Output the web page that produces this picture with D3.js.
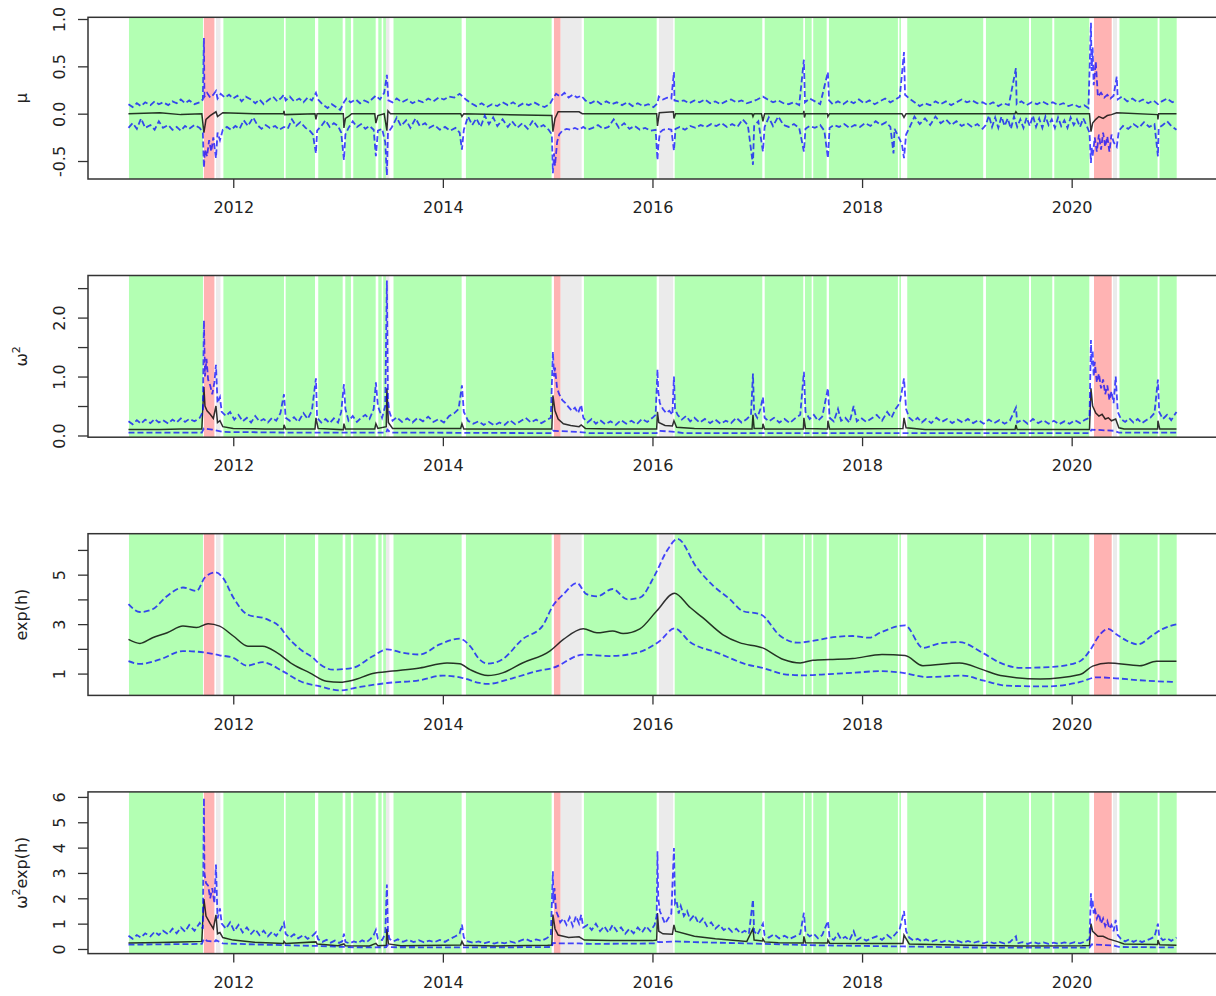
<!DOCTYPE html>
<html>
<head>
<meta charset="utf-8">
<script src="https://cdn.jsdelivr.net/npm/d3@7"></script>
<style>
body { margin: 0; background: #fff; }
text { font-family: "DejaVu Sans", sans-serif; fill: #222; }
</style>
</head>
<body>
<svg id="chart" width="1216" height="996"></svg>
<script>
// x axis labels
var yearTicks = [2012, 2014, 2016, 2018, 2020];

// regime shading [from, to, kind]  g = calm, r = crisis, w = other
var regimes = [
	[2011.005, 2011.711, "g"], [2011.72, 2011.82, "r"], [2011.835, 2011.878, "w"],
	[2011.906, 2012.484, "g"], [2012.50, 2012.78, "g"], [2012.811, 2013.044, "g"],
	[2013.069, 2013.123, "g"], [2013.145, 2013.359, "g"], [2013.384, 2013.416, "g"],
	[2013.431, 2013.457, "g"], [2013.457, 2013.49, "w"], [2013.529, 2014.179, "g"],
	[2014.22, 2015.038, "g"], [2015.06, 2015.124, "r"], [2015.124, 2015.324, "w"],
	[2015.346, 2016.04, "g"], [2016.062, 2016.198, "w"], [2016.212, 2017.048, "g"],
	[2017.071, 2017.439, "g"], [2017.455, 2017.519, "g"], [2017.534, 2017.662, "g"],
	[2017.684, 2018.342, "g"], [2018.356, 2018.371, "g"], [2018.431, 2019.156, "g"],
	[2019.182, 2019.593, "g"], [2019.612, 2019.815, "g"], [2019.834, 2020.168, "g"],
	[2020.213, 2020.382, "r"], [2020.394, 2020.432, "w"], [2020.456, 2020.82, "g"],
	[2020.838, 2021.002, "g"]
];

// ---- mu ----
var muMid = [[2011.00,0.00],[2011.30,0.01],[2011.50,-0.01],[2011.70,0.00],[2011.72,-0.20],[2011.74,-0.06],[2011.78,-0.02],[2011.835,0.02],[2011.85,-0.03],[2011.90,0.01],[2012.20,0.00],[2012.48,0.00],[2012.484,0.03],[2012.49,-0.01],[2012.78,0.00],[2012.789,-0.06],[2012.80,0.00],[2013.05,0.00],[2013.056,-0.15],[2013.07,-0.05],[2013.10,-0.03],[2013.13,0.00],[2013.35,0.00],[2013.361,-0.10],[2013.38,-0.02],[2013.44,0.00],[2013.466,-0.18],[2013.476,0.03],[2013.50,0.00],[2014.17,0.00],[2014.182,-0.03],[2014.20,0.00],[2015.04,-0.02],[2015.05,-0.19],[2015.07,-0.05],[2015.10,0.02],[2015.30,0.02],[2015.33,0.00],[2016.04,0.00],[2016.048,-0.13],[2016.065,0.01],[2016.20,0.02],[2016.205,-0.05],[2016.22,0.00],[2016.95,0.00],[2016.959,-0.03],[2016.97,0.00],[2017.04,0.00],[2017.054,-0.08],[2017.07,0.00],[2017.44,0.00],[2017.445,0.03],[2017.45,-0.04],[2017.46,0.00],[2017.67,0.00],[2017.674,-0.03],[2017.69,0.00],[2018.38,0.00],[2018.40,-0.04],[2018.42,0.00],[2019.46,0.00],[2019.468,0.02],[2019.48,0.00],[2020.17,0.00],[2020.184,-0.19],[2020.20,-0.10],[2020.23,-0.06],[2020.26,-0.03],[2020.30,-0.05],[2020.34,-0.02],[2020.38,-0.01],[2020.43,0.01],[2020.82,-0.01],[2020.823,-0.06],[2020.83,0.00],[2021.00,0.00]];
var muUp = [[2011.00,0.10],[2011.04,0.07],[2011.08,0.11],[2011.12,0.08],[2011.16,0.12],[2011.21,0.09],[2011.25,0.13],[2011.29,0.10],[2011.33,0.12],[2011.38,0.09],[2011.42,0.13],[2011.46,0.11],[2011.50,0.15],[2011.54,0.11],[2011.58,0.14],[2011.63,0.10],[2011.68,0.12],[2011.71,0.15],[2011.72,0.80],[2011.725,0.18],[2011.75,0.22],[2011.78,0.17],[2011.81,0.20],[2011.835,0.24],[2011.85,0.16],[2011.88,0.21],[2011.92,0.17],[2011.96,0.20],[2012.00,0.16],[2012.04,0.19],[2012.08,0.13],[2012.12,0.18],[2012.17,0.15],[2012.21,0.11],[2012.25,0.15],[2012.29,0.10],[2012.33,0.14],[2012.38,0.18],[2012.42,0.13],[2012.46,0.17],[2012.484,0.20],[2012.50,0.14],[2012.54,0.18],[2012.58,0.13],[2012.63,0.16],[2012.67,0.12],[2012.71,0.17],[2012.75,0.14],[2012.789,0.22],[2012.81,0.15],[2012.85,0.10],[2012.90,0.06],[2012.94,0.10],[2012.98,0.07],[2013.02,0.04],[2013.056,0.12],[2013.08,0.16],[2013.12,0.12],[2013.17,0.15],[2013.21,0.11],[2013.25,0.14],[2013.29,0.12],[2013.33,0.16],[2013.361,0.19],[2013.40,0.15],[2013.44,0.22],[2013.466,0.41],[2013.48,0.14],[2013.52,0.12],[2013.56,0.16],[2013.61,0.12],[2013.66,0.15],[2013.71,0.11],[2013.76,0.14],[2013.81,0.12],[2013.86,0.16],[2013.91,0.13],[2013.96,0.17],[2014.01,0.15],[2014.06,0.18],[2014.11,0.17],[2014.16,0.21],[2014.18,0.19],[2014.22,0.15],[2014.27,0.11],[2014.32,0.08],[2014.37,0.11],[2014.42,0.07],[2014.47,0.10],[2014.52,0.08],[2014.57,0.12],[2014.62,0.09],[2014.67,0.12],[2014.72,0.08],[2014.77,0.11],[2014.82,0.09],[2014.87,0.12],[2014.92,0.09],[2014.97,0.07],[2015.02,0.10],[2015.05,0.16],[2015.08,0.21],[2015.12,0.18],[2015.16,0.22],[2015.20,0.17],[2015.24,0.20],[2015.28,0.17],[2015.32,0.19],[2015.36,0.14],[2015.41,0.11],[2015.46,0.14],[2015.51,0.10],[2015.56,0.13],[2015.61,0.10],[2015.66,0.12],[2015.71,0.09],[2015.76,0.12],[2015.81,0.08],[2015.86,0.11],[2015.91,0.08],[2015.96,0.10],[2016.01,0.07],[2016.048,0.11],[2016.06,0.18],[2016.10,0.15],[2016.14,0.17],[2016.18,0.16],[2016.205,0.44],[2016.21,0.14],[2016.25,0.13],[2016.30,0.14],[2016.35,0.11],[2016.40,0.14],[2016.45,0.12],[2016.50,0.15],[2016.55,0.11],[2016.60,0.13],[2016.65,0.10],[2016.70,0.13],[2016.75,0.15],[2016.80,0.12],[2016.85,0.14],[2016.90,0.11],[2016.959,0.13],[2017.00,0.15],[2017.054,0.18],[2017.10,0.15],[2017.15,0.12],[2017.20,0.14],[2017.25,0.11],[2017.30,0.10],[2017.35,0.12],[2017.40,0.09],[2017.445,0.57],[2017.455,0.12],[2017.50,0.16],[2017.55,0.13],[2017.60,0.10],[2017.674,0.44],[2017.685,0.14],[2017.72,0.10],[2017.77,0.13],[2017.82,0.10],[2017.87,0.14],[2017.92,0.11],[2017.97,0.15],[2018.02,0.11],[2018.07,0.14],[2018.12,0.10],[2018.17,0.13],[2018.22,0.16],[2018.27,0.12],[2018.32,0.15],[2018.36,0.18],[2018.40,0.65],[2018.41,0.20],[2018.45,0.16],[2018.50,0.12],[2018.55,0.08],[2018.60,0.11],[2018.65,0.09],[2018.70,0.13],[2018.75,0.10],[2018.80,0.13],[2018.85,0.09],[2018.90,0.12],[2018.95,0.15],[2019.00,0.12],[2019.05,0.14],[2019.10,0.11],[2019.15,0.12],[2019.20,0.09],[2019.25,0.12],[2019.30,0.08],[2019.35,0.11],[2019.40,0.09],[2019.468,0.48],[2019.475,0.10],[2019.52,0.13],[2019.57,0.09],[2019.62,0.12],[2019.67,0.10],[2019.72,0.13],[2019.77,0.10],[2019.82,0.12],[2019.87,0.09],[2019.92,0.11],[2019.97,0.08],[2020.02,0.10],[2020.07,0.07],[2020.12,0.09],[2020.16,0.06],[2020.184,0.96],[2020.19,0.45],[2020.20,0.70],[2020.21,0.30],[2020.23,0.55],[2020.25,0.18],[2020.28,0.22],[2020.31,0.17],[2020.34,0.20],[2020.37,0.16],[2020.40,0.19],[2020.43,0.39],[2020.44,0.15],[2020.48,0.18],[2020.53,0.13],[2020.58,0.16],[2020.63,0.12],[2020.68,0.15],[2020.73,0.11],[2020.78,0.14],[2020.823,0.10],[2020.86,0.13],[2020.91,0.16],[2020.96,0.12],[2021.00,0.14]];
var muLo = [[2011.00,-0.15],[2011.04,-0.10],[2011.08,-0.16],[2011.12,-0.05],[2011.16,-0.15],[2011.21,-0.12],[2011.25,-0.17],[2011.29,-0.08],[2011.33,-0.15],[2011.38,-0.12],[2011.42,-0.17],[2011.46,-0.14],[2011.50,-0.18],[2011.54,-0.13],[2011.58,-0.16],[2011.63,-0.12],[2011.68,-0.15],[2011.71,-0.20],[2011.72,-0.57],[2011.73,-0.38],[2011.75,-0.45],[2011.77,-0.28],[2011.79,-0.40],[2011.81,-0.25],[2011.835,-0.47],[2011.85,-0.20],[2011.873,-0.28],[2011.90,-0.17],[2011.94,-0.14],[2011.98,-0.17],[2012.02,-0.13],[2012.06,-0.16],[2012.10,-0.07],[2012.14,-0.13],[2012.19,-0.04],[2012.23,-0.12],[2012.27,-0.16],[2012.31,-0.12],[2012.35,-0.15],[2012.40,-0.13],[2012.44,-0.17],[2012.484,-0.14],[2012.52,-0.16],[2012.56,-0.06],[2012.60,-0.13],[2012.64,-0.09],[2012.69,-0.15],[2012.73,-0.18],[2012.76,-0.22],[2012.789,-0.42],[2012.80,-0.18],[2012.84,-0.13],[2012.88,-0.07],[2012.92,-0.14],[2012.96,-0.10],[2013.00,-0.13],[2013.03,-0.20],[2013.056,-0.49],[2013.07,-0.22],[2013.10,-0.15],[2013.14,-0.08],[2013.18,-0.14],[2013.22,-0.11],[2013.26,-0.16],[2013.30,-0.13],[2013.34,-0.17],[2013.361,-0.45],[2013.38,-0.18],[2013.42,-0.16],[2013.45,-0.30],[2013.466,-0.65],[2013.476,-0.20],[2013.51,-0.15],[2013.56,-0.04],[2013.60,-0.13],[2013.65,-0.07],[2013.69,-0.15],[2013.74,-0.05],[2013.78,-0.13],[2013.83,-0.10],[2013.87,-0.15],[2013.92,-0.12],[2013.97,-0.17],[2014.02,-0.14],[2014.07,-0.18],[2014.12,-0.15],[2014.16,-0.20],[2014.182,-0.38],[2014.20,-0.17],[2014.24,-0.03],[2014.28,-0.12],[2014.32,-0.05],[2014.36,-0.14],[2014.40,-0.02],[2014.44,-0.11],[2014.48,-0.04],[2014.52,-0.13],[2014.57,-0.06],[2014.62,-0.14],[2014.66,-0.08],[2014.71,-0.15],[2014.76,-0.10],[2014.81,-0.16],[2014.86,-0.07],[2014.91,-0.15],[2014.96,-0.12],[2015.01,-0.17],[2015.04,-0.22],[2015.05,-0.63],[2015.06,-0.42],[2015.07,-0.55],[2015.09,-0.30],[2015.11,-0.22],[2015.14,-0.18],[2015.18,-0.16],[2015.22,-0.17],[2015.26,-0.15],[2015.30,-0.17],[2015.34,-0.14],[2015.38,-0.17],[2015.43,-0.15],[2015.48,-0.12],[2015.53,-0.16],[2015.58,-0.14],[2015.63,-0.06],[2015.68,-0.15],[2015.73,-0.10],[2015.78,-0.16],[2015.83,-0.13],[2015.88,-0.17],[2015.93,-0.15],[2015.98,-0.18],[2016.03,-0.17],[2016.048,-0.49],[2016.055,-0.35],[2016.07,-0.20],[2016.10,-0.17],[2016.14,-0.16],[2016.18,-0.17],[2016.205,-0.39],[2016.22,-0.16],[2016.26,-0.14],[2016.31,-0.17],[2016.36,-0.13],[2016.41,-0.15],[2016.46,-0.12],[2016.51,-0.14],[2016.56,-0.11],[2016.61,-0.13],[2016.66,-0.10],[2016.71,-0.14],[2016.76,-0.11],[2016.81,-0.14],[2016.86,-0.06],[2016.91,-0.12],[2016.959,-0.54],[2016.97,-0.13],[2017.01,-0.08],[2017.054,-0.40],[2017.07,-0.14],[2017.11,-0.04],[2017.15,-0.13],[2017.20,-0.03],[2017.25,-0.12],[2017.30,-0.14],[2017.35,-0.11],[2017.40,-0.15],[2017.445,-0.40],[2017.46,-0.16],[2017.50,-0.13],[2017.55,-0.15],[2017.60,-0.12],[2017.64,-0.18],[2017.674,-0.47],[2017.69,-0.15],[2017.73,-0.12],[2017.78,-0.14],[2017.83,-0.11],[2017.88,-0.15],[2017.93,-0.12],[2017.98,-0.14],[2018.03,-0.10],[2018.08,-0.13],[2018.13,-0.08],[2018.18,-0.12],[2018.23,-0.09],[2018.27,-0.14],[2018.30,-0.42],[2018.31,-0.16],[2018.35,-0.25],[2018.38,-0.32],[2018.40,-0.47],[2018.42,-0.22],[2018.46,-0.13],[2018.50,-0.03],[2018.55,-0.11],[2018.60,-0.05],[2018.65,-0.12],[2018.70,-0.03],[2018.75,-0.10],[2018.80,-0.06],[2018.85,-0.12],[2018.90,-0.08],[2018.95,-0.13],[2019.00,-0.10],[2019.05,-0.14],[2019.10,-0.11],[2019.15,-0.16],[2019.18,-0.12],[2019.21,-0.02],[2019.24,-0.14],[2019.27,-0.04],[2019.30,-0.15],[2019.33,-0.03],[2019.36,-0.13],[2019.39,-0.05],[2019.42,-0.16],[2019.45,-0.03],[2019.48,-0.14],[2019.51,-0.06],[2019.54,-0.15],[2019.57,-0.04],[2019.60,-0.13],[2019.63,-0.02],[2019.66,-0.14],[2019.69,-0.05],[2019.72,-0.15],[2019.75,-0.03],[2019.78,-0.12],[2019.81,-0.06],[2019.84,-0.15],[2019.87,-0.04],[2019.90,-0.13],[2019.93,-0.07],[2019.96,-0.15],[2019.99,-0.04],[2020.02,-0.12],[2020.05,-0.06],[2020.08,-0.14],[2020.11,-0.05],[2020.14,-0.12],[2020.17,-0.20],[2020.184,-0.52],[2020.19,-0.35],[2020.20,-0.45],[2020.22,-0.25],[2020.24,-0.40],[2020.26,-0.22],[2020.28,-0.38],[2020.30,-0.20],[2020.32,-0.35],[2020.34,-0.24],[2020.36,-0.40],[2020.38,-0.22],[2020.40,-0.30],[2020.43,-0.35],[2020.45,-0.18],[2020.49,-0.13],[2020.54,-0.16],[2020.59,-0.11],[2020.64,-0.15],[2020.69,-0.09],[2020.74,-0.14],[2020.79,-0.11],[2020.823,-0.45],[2020.83,-0.15],[2020.87,-0.12],[2020.91,-0.08],[2020.95,-0.13],[2021.00,-0.17]];

// ---- omega^2 ----
var wMid = [[2011.00,0.10],[2011.30,0.10],[2011.50,0.11],[2011.70,0.11],[2011.72,0.82],[2011.73,0.50],[2011.75,0.42],[2011.78,0.36],[2011.81,0.29],[2011.835,0.50],[2011.85,0.22],[2011.873,0.25],[2011.90,0.15],[2012.00,0.12],[2012.30,0.11],[2012.48,0.11],[2012.484,0.18],[2012.50,0.11],[2012.78,0.11],[2012.789,0.30],[2012.81,0.12],[2013.05,0.10],[2013.056,0.20],[2013.07,0.11],[2013.35,0.11],[2013.361,0.20],[2013.38,0.12],[2013.46,0.15],[2013.466,0.80],[2013.48,0.22],[2013.52,0.12],[2014.17,0.12],[2014.182,0.20],[2014.20,0.11],[2015.04,0.11],[2015.05,0.68],[2015.07,0.42],[2015.10,0.28],[2015.15,0.20],[2015.22,0.17],[2015.30,0.15],[2015.32,0.18],[2015.36,0.12],[2015.60,0.11],[2016.04,0.11],[2016.048,0.40],[2016.06,0.22],[2016.12,0.17],[2016.19,0.16],[2016.205,0.25],[2016.23,0.14],[2016.40,0.12],[2016.95,0.11],[2016.959,0.35],[2016.97,0.12],[2017.05,0.12],[2017.054,0.20],[2017.07,0.11],[2017.44,0.11],[2017.445,0.30],[2017.46,0.12],[2017.67,0.11],[2017.674,0.25],[2017.69,0.11],[2018.39,0.12],[2018.40,0.30],[2018.42,0.13],[2018.60,0.10],[2019.46,0.10],[2019.468,0.18],[2019.48,0.10],[2020.17,0.10],[2020.184,0.80],[2020.20,0.50],[2020.23,0.38],[2020.26,0.33],[2020.29,0.36],[2020.32,0.28],[2020.35,0.30],[2020.38,0.25],[2020.42,0.28],[2020.45,0.13],[2020.50,0.11],[2020.82,0.11],[2020.823,0.25],[2020.84,0.11],[2021.00,0.11]];
var wUp = [[2011.00,0.24],[2011.04,0.19],[2011.08,0.26],[2011.12,0.20],[2011.16,0.27],[2011.21,0.21],[2011.25,0.28],[2011.29,0.22],[2011.33,0.26],[2011.38,0.20],[2011.42,0.27],[2011.46,0.22],[2011.50,0.29],[2011.54,0.23],[2011.58,0.28],[2011.63,0.24],[2011.68,0.30],[2011.71,0.40],[2011.72,1.95],[2011.73,1.00],[2011.745,1.30],[2011.76,0.95],[2011.78,0.85],[2011.80,0.70],[2011.82,0.90],[2011.835,1.20],[2011.85,0.55],[2011.873,0.65],[2011.89,0.40],[2011.93,0.33],[2011.97,0.40],[2012.01,0.27],[2012.05,0.35],[2012.09,0.24],[2012.13,0.30],[2012.17,0.22],[2012.21,0.33],[2012.25,0.24],[2012.29,0.28],[2012.33,0.22],[2012.37,0.30],[2012.41,0.25],[2012.45,0.38],[2012.484,0.70],[2012.50,0.30],[2012.54,0.25],[2012.58,0.31],[2012.62,0.23],[2012.67,0.38],[2012.71,0.28],[2012.75,0.42],[2012.789,0.97],[2012.80,0.30],[2012.84,0.22],[2012.88,0.28],[2012.92,0.21],[2012.96,0.29],[2013.00,0.22],[2013.03,0.40],[2013.056,0.87],[2013.07,0.45],[2013.10,0.25],[2013.14,0.33],[2013.18,0.23],[2013.22,0.30],[2013.26,0.35],[2013.30,0.28],[2013.34,0.45],[2013.361,0.90],[2013.38,0.50],[2013.42,0.30],[2013.45,0.50],[2013.466,2.63],[2013.476,0.60],[2013.49,0.40],[2013.52,0.25],[2013.56,0.31],[2013.61,0.23],[2013.66,0.29],[2013.71,0.22],[2013.76,0.30],[2013.81,0.24],[2013.86,0.32],[2013.91,0.23],[2013.96,0.28],[2014.01,0.22],[2014.06,0.33],[2014.11,0.38],[2014.15,0.45],[2014.182,0.85],[2014.20,0.40],[2014.24,0.25],[2014.29,0.20],[2014.34,0.24],[2014.39,0.18],[2014.44,0.23],[2014.49,0.17],[2014.54,0.22],[2014.59,0.18],[2014.64,0.26],[2014.69,0.19],[2014.74,0.24],[2014.79,0.30],[2014.84,0.22],[2014.89,0.27],[2014.94,0.21],[2014.99,0.26],[2015.03,0.30],[2015.05,1.42],[2015.06,1.00],[2015.07,1.15],[2015.09,0.80],[2015.11,0.70],[2015.14,0.60],[2015.17,0.55],[2015.20,0.48],[2015.23,0.42],[2015.26,0.47],[2015.29,0.38],[2015.32,0.52],[2015.34,0.30],[2015.38,0.22],[2015.42,0.28],[2015.46,0.20],[2015.50,0.26],[2015.55,0.19],[2015.60,0.24],[2015.65,0.18],[2015.70,0.26],[2015.75,0.20],[2015.80,0.25],[2015.85,0.19],[2015.90,0.28],[2015.95,0.23],[2016.00,0.30],[2016.03,0.35],[2016.048,1.12],[2016.055,0.75],[2016.07,0.55],[2016.10,0.45],[2016.13,0.38],[2016.16,0.42],[2016.19,0.35],[2016.205,1.00],[2016.215,0.45],[2016.24,0.35],[2016.28,0.27],[2016.32,0.33],[2016.36,0.24],[2016.40,0.30],[2016.45,0.22],[2016.50,0.28],[2016.55,0.21],[2016.60,0.27],[2016.65,0.20],[2016.70,0.25],[2016.75,0.21],[2016.80,0.30],[2016.85,0.22],[2016.90,0.28],[2016.94,0.35],[2016.959,1.05],[2016.97,0.40],[2017.00,0.30],[2017.03,0.45],[2017.054,0.65],[2017.07,0.30],[2017.11,0.24],[2017.16,0.30],[2017.21,0.22],[2017.26,0.28],[2017.31,0.21],[2017.36,0.29],[2017.41,0.35],[2017.445,1.08],[2017.46,0.40],[2017.50,0.28],[2017.54,0.35],[2017.58,0.25],[2017.62,0.32],[2017.674,0.80],[2017.69,0.30],[2017.73,0.24],[2017.77,0.45],[2017.80,0.25],[2017.84,0.30],[2017.88,0.22],[2017.92,0.50],[2017.95,0.24],[2017.99,0.30],[2018.04,0.23],[2018.09,0.29],[2018.14,0.35],[2018.19,0.25],[2018.24,0.40],[2018.28,0.30],[2018.32,0.45],[2018.36,0.55],[2018.40,0.97],[2018.42,0.45],[2018.45,0.30],[2018.49,0.24],[2018.53,0.30],[2018.57,0.22],[2018.61,0.28],[2018.66,0.21],[2018.71,0.30],[2018.76,0.23],[2018.81,0.28],[2018.86,0.21],[2018.91,0.27],[2018.96,0.22],[2019.01,0.28],[2019.06,0.21],[2019.11,0.26],[2019.16,0.20],[2019.21,0.27],[2019.26,0.21],[2019.31,0.26],[2019.36,0.20],[2019.41,0.25],[2019.468,0.47],[2019.48,0.22],[2019.53,0.27],[2019.58,0.20],[2019.63,0.28],[2019.68,0.21],[2019.73,0.26],[2019.78,0.20],[2019.83,0.25],[2019.88,0.19],[2019.93,0.24],[2019.98,0.20],[2020.03,0.26],[2020.08,0.21],[2020.13,0.27],[2020.17,0.30],[2020.184,1.62],[2020.19,1.20],[2020.20,1.45],[2020.21,1.00],[2020.22,1.25],[2020.24,0.90],[2020.26,1.05],[2020.28,0.80],[2020.30,0.95],[2020.32,0.70],[2020.34,0.85],[2020.36,0.60],[2020.38,0.75],[2020.40,0.55],[2020.42,1.00],[2020.44,0.40],[2020.47,0.28],[2020.51,0.23],[2020.55,0.29],[2020.59,0.22],[2020.63,0.28],[2020.67,0.21],[2020.71,0.26],[2020.75,0.30],[2020.79,0.38],[2020.823,0.95],[2020.835,0.40],[2020.87,0.28],[2020.91,0.35],[2020.95,0.26],[2021.00,0.40]];
var wLo = [[2011.00,0.05],[2011.70,0.05],[2011.72,0.12],[2011.80,0.10],[2011.90,0.06],[2012.50,0.05],[2013.46,0.05],[2013.47,0.10],[2013.50,0.05],[2015.04,0.04],[2015.05,0.08],[2015.30,0.06],[2015.40,0.04],[2016.04,0.04],[2016.06,0.08],[2016.22,0.06],[2016.30,0.04],[2020.17,0.04],[2020.19,0.10],[2020.40,0.08],[2020.45,0.05],[2021.00,0.05]];

// ---- exp(h) ----
var expMid = [[2011.00,2.38],[2011.11,2.22],[2011.23,2.45],[2011.37,2.65],[2011.52,2.92],[2011.65,2.86],[2011.76,3.02],[2011.87,2.92],[2012.00,2.52],[2012.14,2.11],[2012.28,2.11],[2012.42,1.84],[2012.57,1.37],[2012.73,1.03],[2012.89,0.69],[2013.02,0.65],[2013.14,0.73],[2013.33,1.00],[2013.52,1.10],[2013.78,1.23],[2014.04,1.43],[2014.16,1.40],[2014.26,1.16],[2014.43,0.92],[2014.57,1.03],[2014.76,1.43],[2015.02,1.91],[2015.15,2.38],[2015.34,2.81],[2015.47,2.65],[2015.62,2.72],[2015.72,2.62],[2015.88,2.81],[2016.04,3.53],[2016.21,4.25],[2016.36,3.67],[2016.48,3.26],[2016.67,2.58],[2016.83,2.25],[2017.05,2.04],[2017.25,1.57],[2017.41,1.43],[2017.53,1.54],[2017.69,1.57],[2017.91,1.61],[2018.19,1.77],[2018.41,1.73],[2018.58,1.32],[2018.93,1.43],[2019.15,1.16],[2019.32,0.92],[2019.70,0.78],[2020.08,0.96],[2020.20,1.30],[2020.35,1.43],[2020.65,1.32],[2020.81,1.50],[2021.00,1.50]];
var expUp = [[2011.00,3.81],[2011.11,3.49],[2011.23,3.60],[2011.37,4.14],[2011.52,4.48],[2011.65,4.34],[2011.73,4.89],[2011.83,5.09],[2011.90,4.88],[2012.00,4.08],[2012.13,3.40],[2012.32,3.20],[2012.45,2.86],[2012.51,2.52],[2012.64,1.98],[2012.76,1.64],[2012.83,1.37],[2012.95,1.16],[2013.14,1.23],[2013.33,1.70],[2013.47,1.98],[2013.62,1.84],[2013.78,1.77],[2013.97,2.18],[2014.16,2.41],[2014.26,2.11],[2014.35,1.57],[2014.43,1.40],[2014.57,1.58],[2014.76,2.39],[2014.95,2.92],[2015.05,3.74],[2015.15,4.21],[2015.28,4.66],[2015.37,4.21],[2015.47,4.12],[2015.62,4.42],[2015.76,4.00],[2015.88,4.07],[2016.02,4.96],[2016.14,5.98],[2016.24,6.45],[2016.42,5.30],[2016.58,4.55],[2016.74,4.00],[2016.86,3.53],[2017.03,3.40],[2017.22,2.52],[2017.38,2.25],[2017.53,2.32],[2017.69,2.45],[2017.91,2.52],[2018.07,2.45],[2018.17,2.65],[2018.41,2.95],[2018.58,2.04],[2018.74,2.22],[2018.93,2.27],[2019.15,1.84],[2019.32,1.43],[2019.51,1.23],[2019.82,1.27],[2020.08,1.50],[2020.17,1.91],[2020.27,2.58],[2020.35,2.81],[2020.43,2.58],[2020.53,2.32],[2020.63,2.18],[2020.78,2.58],[2020.87,2.81],[2021.00,2.99]];
var expLo = [[2011.00,1.50],[2011.11,1.39],[2011.30,1.57],[2011.52,1.91],[2011.75,1.84],[2011.87,1.74],[2012.00,1.64],[2012.13,1.32],[2012.28,1.46],[2012.47,1.10],[2012.64,0.69],[2012.83,0.48],[2013.02,0.32],[2013.21,0.46],[2013.47,0.62],[2013.78,0.73],[2014.00,0.92],[2014.19,0.82],[2014.35,0.62],[2014.42,0.58],[2014.67,0.82],[2014.90,1.10],[2015.05,1.23],[2015.34,1.77],[2015.59,1.71],[2015.85,1.84],[2016.07,2.32],[2016.21,2.83],[2016.36,2.27],[2016.62,1.84],[2016.90,1.37],[2017.05,1.23],[2017.28,0.96],[2017.44,0.93],[2017.69,0.98],[2017.91,1.03],[2018.17,1.10],[2018.39,1.03],[2018.62,0.86],[2018.96,0.92],[2019.15,0.73],[2019.38,0.51],[2019.76,0.48],[2020.08,0.66],[2020.24,0.85],[2020.39,0.82],[2020.65,0.73],[2020.97,0.66]];

// ---- omega^2 exp(h) ----
var weMid = [[2011.00,0.24],[2011.30,0.26],[2011.50,0.28],[2011.70,0.30],[2011.72,1.97],[2011.74,1.30],[2011.78,1.00],[2011.81,0.80],[2011.835,1.35],[2011.85,0.60],[2011.873,0.65],[2011.90,0.45],[2012.00,0.35],[2012.20,0.27],[2012.48,0.22],[2012.484,0.30],[2012.50,0.22],[2012.789,0.28],[2012.80,0.20],[2013.00,0.13],[2013.056,0.20],[2013.07,0.13],[2013.30,0.12],[2013.361,0.22],[2013.38,0.13],[2013.46,0.15],[2013.466,0.80],[2013.48,0.20],[2013.60,0.13],[2014.00,0.15],[2014.17,0.16],[2014.182,0.30],[2014.20,0.15],[2014.50,0.12],[2015.00,0.15],[2015.04,0.16],[2015.05,1.36],[2015.07,0.80],[2015.10,0.55],[2015.20,0.45],[2015.30,0.48],[2015.35,0.35],[2015.60,0.33],[2016.00,0.33],[2016.04,0.35],[2016.048,1.42],[2016.06,0.70],[2016.10,0.60],[2016.19,0.58],[2016.205,0.95],[2016.22,0.70],[2016.40,0.50],[2016.60,0.40],[2016.90,0.30],[2016.959,0.80],[2016.97,0.35],[2017.05,0.32],[2017.054,0.40],[2017.07,0.28],[2017.20,0.25],[2017.44,0.24],[2017.445,0.50],[2017.46,0.25],[2017.67,0.24],[2017.674,0.35],[2017.69,0.23],[2018.00,0.22],[2018.39,0.22],[2018.40,0.55],[2018.45,0.20],[2019.00,0.15],[2019.50,0.12],[2020.10,0.13],[2020.17,0.14],[2020.184,1.00],[2020.20,0.70],[2020.25,0.50],[2020.30,0.50],[2020.35,0.40],[2020.43,0.30],[2020.50,0.20],[2020.82,0.18],[2020.823,0.35],[2020.84,0.17],[2021.00,0.15]];
var weUp = [[2011.00,0.52],[2011.04,0.40],[2011.08,0.55],[2011.12,0.45],[2011.16,0.62],[2011.21,0.50],[2011.25,0.68],[2011.29,0.55],[2011.33,0.72],[2011.38,0.58],[2011.42,0.80],[2011.46,0.62],[2011.50,0.85],[2011.54,0.68],[2011.58,0.95],[2011.63,0.72],[2011.68,1.03],[2011.71,0.80],[2011.72,5.96],[2011.725,3.00],[2011.74,2.60],[2011.76,2.50],[2011.78,2.00],[2011.80,2.40],[2011.82,1.80],[2011.835,3.33],[2011.85,1.20],[2011.873,1.60],[2011.89,1.00],[2011.93,0.80],[2011.97,1.05],[2012.01,0.70],[2012.05,0.95],[2012.09,0.65],[2012.13,0.85],[2012.17,0.60],[2012.21,0.78],[2012.25,0.55],[2012.29,0.72],[2012.33,0.50],[2012.37,0.68],[2012.41,0.52],[2012.45,0.75],[2012.484,1.03],[2012.50,0.60],[2012.54,0.45],[2012.58,0.58],[2012.62,0.42],[2012.67,0.55],[2012.71,0.40],[2012.75,0.50],[2012.789,0.66],[2012.81,0.38],[2012.85,0.28],[2012.89,0.36],[2012.93,0.25],[2012.97,0.33],[2013.01,0.24],[2013.04,0.30],[2013.056,0.60],[2013.07,0.28],[2013.11,0.22],[2013.15,0.30],[2013.19,0.24],[2013.23,0.34],[2013.27,0.26],[2013.31,0.40],[2013.34,0.55],[2013.361,0.75],[2013.38,0.40],[2013.42,0.35],[2013.45,0.60],[2013.466,2.54],[2013.476,0.70],[2013.49,0.40],[2013.53,0.30],[2013.57,0.38],[2013.62,0.28],[2013.67,0.36],[2013.72,0.27],[2013.77,0.35],[2013.82,0.26],[2013.87,0.33],[2013.92,0.27],[2013.97,0.36],[2014.02,0.28],[2014.07,0.40],[2014.12,0.50],[2014.16,0.60],[2014.182,0.96],[2014.20,0.45],[2014.24,0.30],[2014.29,0.24],[2014.34,0.30],[2014.39,0.22],[2014.44,0.28],[2014.49,0.21],[2014.54,0.27],[2014.59,0.22],[2014.64,0.30],[2014.69,0.24],[2014.74,0.33],[2014.79,0.40],[2014.84,0.30],[2014.89,0.38],[2014.94,0.32],[2014.99,0.42],[2015.03,0.55],[2015.05,3.07],[2015.055,1.80],[2015.065,2.40],[2015.08,1.50],[2015.10,1.30],[2015.12,1.05],[2015.15,1.20],[2015.18,0.95],[2015.21,1.25],[2015.24,0.90],[2015.27,1.30],[2015.30,1.00],[2015.32,1.35],[2015.34,0.85],[2015.38,0.95],[2015.42,0.75],[2015.46,1.00],[2015.50,0.70],[2015.54,0.90],[2015.58,0.65],[2015.62,0.95],[2015.66,0.70],[2015.70,0.85],[2015.74,0.60],[2015.78,0.80],[2015.82,0.62],[2015.86,0.85],[2015.90,0.65],[2015.94,0.90],[2015.98,0.70],[2016.02,0.95],[2016.04,1.30],[2016.048,3.86],[2016.055,2.00],[2016.07,1.50],[2016.09,1.30],[2016.12,1.00],[2016.15,1.20],[2016.18,1.40],[2016.205,3.98],[2016.215,1.80],[2016.23,1.90],[2016.25,1.40],[2016.27,1.70],[2016.30,1.30],[2016.33,1.50],[2016.36,1.15],[2016.40,1.35],[2016.44,1.00],[2016.48,1.20],[2016.52,0.90],[2016.56,1.05],[2016.60,0.80],[2016.64,0.95],[2016.68,0.75],[2016.72,0.85],[2016.76,0.68],[2016.80,0.80],[2016.84,0.62],[2016.88,0.72],[2016.92,0.60],[2016.959,1.95],[2016.97,0.70],[2017.00,0.55],[2017.03,0.80],[2017.054,1.00],[2017.07,0.55],[2017.11,0.45],[2017.16,0.58],[2017.21,0.42],[2017.26,0.52],[2017.31,0.40],[2017.36,0.50],[2017.41,0.60],[2017.445,1.43],[2017.46,0.65],[2017.50,0.50],[2017.54,0.60],[2017.58,0.42],[2017.62,0.55],[2017.674,1.10],[2017.69,0.45],[2017.73,0.36],[2017.77,0.60],[2017.80,0.38],[2017.84,0.48],[2017.88,0.34],[2017.92,0.70],[2017.95,0.35],[2017.99,0.45],[2018.04,0.33],[2018.09,0.42],[2018.14,0.50],[2018.19,0.36],[2018.24,0.55],[2018.28,0.42],[2018.32,0.60],[2018.36,0.80],[2018.40,1.50],[2018.42,0.70],[2018.45,0.45],[2018.49,0.33],[2018.53,0.40],[2018.57,0.30],[2018.61,0.38],[2018.66,0.28],[2018.71,0.36],[2018.76,0.27],[2018.81,0.35],[2018.86,0.26],[2018.91,0.33],[2018.96,0.25],[2019.01,0.32],[2019.06,0.24],[2019.11,0.30],[2019.16,0.22],[2019.21,0.29],[2019.26,0.22],[2019.31,0.28],[2019.36,0.21],[2019.41,0.27],[2019.468,0.50],[2019.48,0.22],[2019.53,0.27],[2019.58,0.20],[2019.63,0.28],[2019.68,0.21],[2019.73,0.26],[2019.78,0.20],[2019.83,0.25],[2019.88,0.20],[2019.93,0.26],[2019.98,0.21],[2020.03,0.27],[2020.08,0.22],[2020.13,0.30],[2020.17,0.40],[2020.184,2.20],[2020.19,1.60],[2020.20,1.90],[2020.21,1.40],[2020.22,1.60],[2020.24,1.20],[2020.26,1.40],[2020.28,1.00],[2020.30,1.20],[2020.32,0.90],[2020.34,1.10],[2020.36,0.80],[2020.38,0.95],[2020.40,0.70],[2020.42,1.15],[2020.44,0.55],[2020.47,0.40],[2020.51,0.30],[2020.55,0.38],[2020.59,0.28],[2020.63,0.36],[2020.67,0.27],[2020.71,0.34],[2020.75,0.40],[2020.79,0.48],[2020.823,1.00],[2020.835,0.50],[2020.87,0.35],[2020.91,0.42],[2020.95,0.32],[2021.00,0.45]];
var weLo = [[2011.00,0.17],[2011.70,0.20],[2011.72,0.40],[2011.75,0.32],[2011.82,0.28],[2011.835,0.35],[2011.90,0.22],[2012.20,0.18],[2012.80,0.12],[2013.20,0.06],[2013.46,0.07],[2013.47,0.15],[2013.50,0.07],[2014.50,0.06],[2015.04,0.08],[2015.05,0.24],[2015.10,0.22],[2015.30,0.22],[2015.40,0.20],[2016.04,0.22],[2016.05,0.28],[2016.10,0.27],[2016.21,0.30],[2016.40,0.27],[2016.90,0.22],[2017.50,0.15],[2018.40,0.10],[2019.00,0.06],[2020.17,0.05],[2020.19,0.18],[2020.40,0.14],[2020.45,0.08],[2021.00,0.06]];

var panels = [
	{ title: [["μ", 0]], ylim: [-0.69, 1.018], ticks: [-0.5, 0, 0.5, 1], labels: ["-0.5", "0.0", "0.5", "1.0"], mid: muMid, up: muUp, lo: muLo, smooth: false },
	{ title: [["ω", 0], ["2", 1]], ylim: [-0.029, 2.714], ticks: [0, 0.5, 1, 1.5, 2, 2.5], labels: ["0.0", "", "1.0", "", "2.0", ""], mid: wMid, up: wUp, lo: wLo, smooth: false },
	{ title: [["exp(h)", 0]], ylim: [0.118, 6.656], ticks: [1, 2, 3, 4, 5, 6], labels: ["1", "", "3", "", "5", ""], mid: expMid, up: expUp, lo: expLo, smooth: true },
	{ title: [["ω", 0], ["2", 1], ["exp(h)", 2]], ylim: [-0.182, 6.198], ticks: [0, 1, 2, 3, 4, 5, 6], labels: ["0", "1", "2", "3", "4", "5", "6"], mid: weMid, up: weUp, lo: weLo, smooth: false }
];

var fills = { g: "#b3ffb3", r: "#ffb3b3", w: "#ebebeb" };

var svg = d3.select("#chart");
var left = 88, right = 1218.4, panelH = 161.7;
var x = d3.scaleLinear().domain([2010.614, 2021.4]).range([left, right]);

panels.forEach(function(p, i){
	var top = 17.3 + i * 258.2;
	var bottom = top + panelH;
	var y = d3.scaleLinear().domain(p.ylim).range([bottom, top]);
	var g = svg.append("g");

	g.append("clipPath").attr("id", "clip" + i)
		.append("rect").attr("x", left).attr("y", top).attr("width", right - left).attr("height", panelH);
	var inner = g.append("g").attr("clip-path", "url(#clip" + i + ")");

	inner.selectAll("rect.reg")
		.data(regimes)
		.join("rect")
		.attr("class", "reg")
		.attr("x", function(d){ return x(d[0]); })
		.attr("width", function(d){ return x(d[1]) - x(d[0]); })
		.attr("y", top)
		.attr("height", panelH)
		.style("fill", function(d){ return fills[d[2]]; });

	var line = d3.line()
		.x(function(d){ return x(d[0]); })
		.y(function(d){ return y(d[1]); })
		.curve(p.smooth ? d3.curveMonotoneX : d3.curveLinear);

	inner.append("path").datum(p.mid).attr("d", line)
		.style("fill", "none").style("stroke", "#000").style("stroke-opacity", 0.8).style("stroke-width", 1.5);
	[p.up, p.lo].forEach(function(s){
		inner.append("path").datum(s).attr("d", line)
			.style("fill", "none").style("stroke", "#0000ff").style("stroke-opacity", 0.72)
			.style("stroke-width", 1.8).style("stroke-dasharray", "6,3");
	});

	// x axis
	var xa = g.append("g").attr("transform", "translate(0," + bottom + ")")
		.call(d3.axisBottom(x).tickValues(yearTicks).tickFormat(d3.format("d")).tickSize(9));
	xa.select(".domain").remove();
	xa.attr("color", "#333");
	xa.selectAll("line").attr("stroke-width", 1.3);
	xa.selectAll("text").attr("y", 34.3).attr("dy", null)
		.attr("font-family", "DejaVu Sans").attr("font-size", 16).style("fill", "#222");

	// y axis
	var ya = g.append("g").attr("transform", "translate(" + left + ",0)")
		.call(d3.axisLeft(y).tickValues(p.ticks).tickSize(10)
			.tickFormat(function(d, k){ return p.labels[k]; }));
	ya.select(".domain").remove();
	ya.attr("color", "#333");
	ya.selectAll("line").attr("stroke-width", 1.3);
	ya.selectAll("text")
		.attr("x", null).attr("dy", null)
		.attr("transform", "translate(-23,0) rotate(-90)")
		.attr("text-anchor", "middle")
		.attr("font-family", "DejaVu Sans").attr("font-size", 16).style("fill", "#222");

	// box
	g.append("rect").attr("x", left).attr("y", top).attr("width", right - left).attr("height", panelH)
		.style("fill", "none").style("stroke", "#333").style("stroke-width", 1.5);

	// y title
	var t = g.append("text")
		.attr("transform", "translate(27," + ((top + bottom) / 2) + ") rotate(-90)")
		.attr("text-anchor", "middle").attr("font-size", 16);
	p.title.forEach(function(part){
		var ts = t.append("tspan").text(part[0]);
		if (part[1] === 1) ts.attr("dy", -7).attr("font-size", 11);
		if (part[1] === 2) ts.attr("dy", 7);
	});
});
</script>
</body>
</html>
